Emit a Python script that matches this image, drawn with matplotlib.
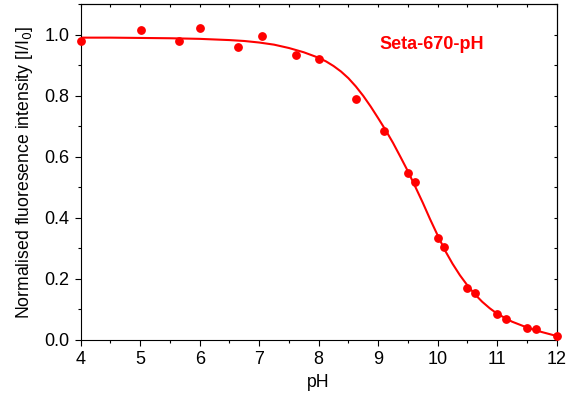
import numpy as np
import matplotlib
matplotlib.use("Agg")
import matplotlib.pyplot as plt
from matplotlib.ticker import MultipleLocator

plt.rcParams['font.family'] = ['Liberation Sans', 'DejaVu Sans']

# Measured points
ph = [4.0, 5.01, 5.65, 6.0, 6.65, 7.04, 7.62, 8.0, 8.63, 9.1,
      9.5, 9.62, 10.0, 10.11, 10.5, 10.62, 11.0, 11.15, 11.5, 11.65, 12.0]
intensity = [0.981, 1.017, 0.981, 1.023, 0.960, 0.998, 0.934, 0.922, 0.790, 0.685,
             0.548, 0.518, 0.334, 0.304, 0.171, 0.153, 0.084, 0.070, 0.038, 0.035, 0.014]

# Fitted curve
fit_ph = [4.0, 4.5, 5.0, 5.5, 6.0, 6.25, 6.5, 6.75, 7.0, 7.25, 7.5, 7.75,
          8.0, 8.125, 8.25, 8.375, 8.5, 8.625, 8.75, 8.875, 9.0, 9.125,
          9.25, 9.375, 9.5, 9.625, 9.75, 9.875, 10.0, 10.125, 10.25, 10.375,
          10.5, 10.625, 10.75, 10.875, 11.0, 11.25, 11.5, 11.75, 12.0]
fit_intensity = [0.991, 0.991, 0.990, 0.989, 0.987, 0.985, 0.983, 0.980, 0.975,
                 0.968, 0.957, 0.943, 0.925, 0.913, 0.898, 0.880, 0.858, 0.831,
                 0.800, 0.765, 0.727, 0.688, 0.646, 0.600, 0.553, 0.502, 0.450,
                 0.395, 0.343, 0.293, 0.250, 0.212, 0.179, 0.150, 0.125, 0.104,
                 0.086, 0.060, 0.041, 0.026, 0.013]

red = '#ff0000'

fig = plt.figure(figsize=(5.81, 3.99), dpi=100)
ax = fig.add_axes([0.139, 0.148, 0.819, 0.841])

ax.plot(fit_ph, fit_intensity, color=red, lw=1.5, zorder=2)
ax.plot(ph, intensity, 'o', color=red, ms=5.3, zorder=3, clip_on=False)

ax.set_xlim(4, 12)
ax.set_ylim(0, 1.1)
ax.xaxis.set_major_locator(MultipleLocator(1))
ax.xaxis.set_minor_locator(MultipleLocator(0.5))
ax.yaxis.set_major_locator(MultipleLocator(0.2))
ax.yaxis.set_minor_locator(MultipleLocator(0.1))
ax.yaxis.set_major_formatter(plt.FormatStrFormatter('%.1f'))

ax.tick_params(which='major', direction='out', length=4.5, width=0.8,
               labelsize=13, pad=3.5, top=False, right=False)
ax.tick_params(which='minor', direction='out', length=2.5, width=0.8,
               top=False, right=False)

# inward ticks on top and right, like the original
sec_x = ax.secondary_xaxis('top')
sec_x.xaxis.set_major_locator(MultipleLocator(0.5))
sec_x.tick_params(direction='in', length=2.5, width=0.8, labeltop=False)
sec_y = ax.secondary_yaxis('right')
sec_y.yaxis.set_major_locator(MultipleLocator(0.1))
sec_y.tick_params(direction='in', length=2.5, width=0.8, labelright=False)

ax.set_xlabel('pH', fontsize=12.7, labelpad=4)
ax.set_ylabel('Normalised fluoresence intensity [I/I$_0$]', fontsize=12.7, labelpad=7)

ax.text(9.03, 0.967, 'Seta-670-pH', color=red, fontsize=13, fontweight='bold',
        va='center', ha='left')

fig.savefig('out.png', dpi=100)
